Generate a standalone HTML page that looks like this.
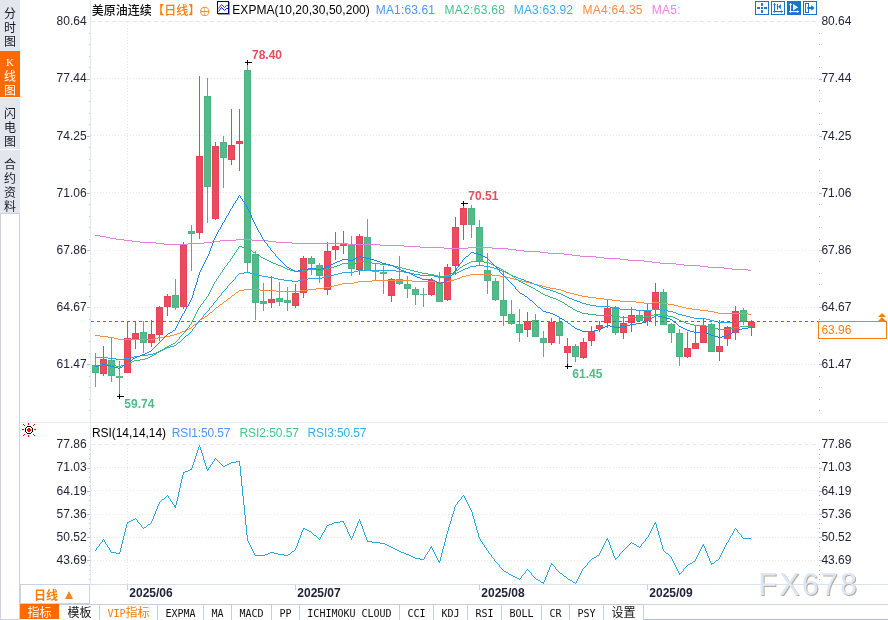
<!DOCTYPE html>
<html lang="zh-CN">
<head>
<meta charset="utf-8">
<title>美原油连续 日线</title>
<style>
html,body{margin:0;padding:0;background:#fff;}
body{width:888px;height:620px;position:relative;overflow:hidden;font-family:"Liberation Sans","Noto Sans CJK SC",sans-serif;}
#chart{position:absolute;left:0;top:0;width:888px;height:620px;}
#side{position:absolute;left:0;top:0;width:20px;height:620px;background:#fff;}
#side .s{position:absolute;left:0;width:20px;background:#e3e6ed;color:#151a28;font:12px/14px "Liberation Serif","Noto Sans CJK SC",serif;text-align:center;}
#side .s span{display:block;height:14px;}
#side .on{background:#ff6a00;color:#fff;}
#side .blank{position:absolute;left:0;top:213px;width:20px;height:407px;border:1px solid #cad3de;box-sizing:border-box;}
#period{position:absolute;left:20px;top:584px;width:70px;height:20px;box-sizing:border-box;border:1px solid #cbd3df;background:#fff;color:#ff7a0a;font:bold 12px/18px "Liberation Sans","Noto Sans CJK SC",sans-serif;}
#period b{position:absolute;left:13px;top:2px;font-weight:bold;}
#period i{position:absolute;left:43.5px;top:5.5px;width:0;height:0;border-left:4.5px solid transparent;border-right:4.5px solid transparent;border-bottom:8px solid #ff8415;}
#tabs{position:absolute;left:20px;top:604px;width:868px;height:16px;display:flex;background:#fff;}
.tab{box-sizing:border-box;height:16px;border-top:1px solid #c5cedc;border-right:1px solid #c5cedc;text-align:center;color:#111;font:12px/17px "Liberation Sans","Noto Sans CJK SC",sans-serif;white-space:pre;overflow:hidden;}
.tab .l{font:10px/17px "DejaVu Sans Mono","Liberation Mono",monospace;position:relative;top:0px;}
.tab.on{background:#ff6a00;color:#fff;border-top-color:#ff6a00;border-right-color:#f4f7fa;height:15px;}
.tab.vip{color:#ff7a0a;}
.tab.cjk,.tab.on,.tab.vip{}
#rest{flex:1;height:16px;box-sizing:border-box;border-top:1px solid #cdd7e3;border-bottom:1px solid #b7c2d0;}
</style>
</head>
<body>
<svg id="chart" width="888" height="620" viewBox="0 0 888 620">
<g shape-rendering="crispEdges" stroke="#e1e8ef" stroke-width="1" fill="none">
<line x1="91" x2="818" y1="21.5" y2="21.5" stroke-dasharray="4 3"/>
<line x1="91" x2="818" y1="78.5" y2="78.5" stroke-dasharray="1 2"/>
<line x1="91" x2="818" y1="135.5" y2="135.5" stroke-dasharray="1 2"/>
<line x1="91" x2="818" y1="192.5" y2="192.5" stroke-dasharray="1 2"/>
<line x1="91" x2="818" y1="250.5" y2="250.5" stroke-dasharray="1 2"/>
<line x1="91" x2="818" y1="307.5" y2="307.5" stroke-dasharray="1 2"/>
<line x1="91" x2="818" y1="364.5" y2="364.5" stroke-dasharray="1 2"/>
<line x1="91" x2="818" y1="444.5" y2="444.5" stroke-dasharray="4 3"/>
<line x1="91" x2="818" y1="467.5" y2="467.5" stroke-dasharray="1 2"/>
<line x1="91" x2="818" y1="490.5" y2="490.5" stroke-dasharray="1 2"/>
<line x1="91" x2="818" y1="514.5" y2="514.5" stroke-dasharray="1 2"/>
<line x1="91" x2="818" y1="537.5" y2="537.5" stroke-dasharray="1 2"/>
<line x1="91" x2="818" y1="560.5" y2="560.5" stroke-dasharray="1 2"/>
<line x1="127.5" x2="127.5" y1="22" y2="422" stroke-dasharray="1 2"/>
<line x1="127.5" x2="127.5" y1="445" y2="584" stroke-dasharray="1 2"/>
</g>
<g shape-rendering="crispEdges" fill="none">
<line x1="90.5" x2="90.5" y1="0" y2="584" stroke="#e1e8f0"/>
<line x1="20" x2="888" y1="422.5" y2="422.5" stroke="#e6ecf2"/>
<line x1="20" x2="888" y1="584.5" y2="584.5" stroke="#d9e1ea"/>
<line x1="819" x2="820" y1="33.5" y2="33.5" stroke="#aab2c6"/>
<line x1="89" x2="90" y1="33.5" y2="33.5" stroke="#c3cbd8"/>
<line x1="819" x2="820" y1="44.5" y2="44.5" stroke="#aab2c6"/>
<line x1="89" x2="90" y1="44.5" y2="44.5" stroke="#c3cbd8"/>
<line x1="819" x2="820" y1="56.5" y2="56.5" stroke="#aab2c6"/>
<line x1="89" x2="90" y1="56.5" y2="56.5" stroke="#c3cbd8"/>
<line x1="819" x2="820" y1="67.5" y2="67.5" stroke="#aab2c6"/>
<line x1="89" x2="90" y1="67.5" y2="67.5" stroke="#c3cbd8"/>
<line x1="819" x2="822" y1="79.5" y2="79.5" stroke="#b4bccb"/>
<line x1="87" x2="90" y1="79.5" y2="79.5" stroke="#b4bccb"/>
<line x1="819" x2="820" y1="90.5" y2="90.5" stroke="#aab2c6"/>
<line x1="89" x2="90" y1="90.5" y2="90.5" stroke="#c3cbd8"/>
<line x1="819" x2="820" y1="101.5" y2="101.5" stroke="#aab2c6"/>
<line x1="89" x2="90" y1="101.5" y2="101.5" stroke="#c3cbd8"/>
<line x1="819" x2="820" y1="113.5" y2="113.5" stroke="#aab2c6"/>
<line x1="89" x2="90" y1="113.5" y2="113.5" stroke="#c3cbd8"/>
<line x1="819" x2="820" y1="124.5" y2="124.5" stroke="#aab2c6"/>
<line x1="89" x2="90" y1="124.5" y2="124.5" stroke="#c3cbd8"/>
<line x1="819" x2="822" y1="136.5" y2="136.5" stroke="#b4bccb"/>
<line x1="87" x2="90" y1="136.5" y2="136.5" stroke="#b4bccb"/>
<line x1="819" x2="820" y1="147.5" y2="147.5" stroke="#aab2c6"/>
<line x1="89" x2="90" y1="147.5" y2="147.5" stroke="#c3cbd8"/>
<line x1="819" x2="820" y1="159.5" y2="159.5" stroke="#aab2c6"/>
<line x1="89" x2="90" y1="159.5" y2="159.5" stroke="#c3cbd8"/>
<line x1="819" x2="820" y1="170.5" y2="170.5" stroke="#aab2c6"/>
<line x1="89" x2="90" y1="170.5" y2="170.5" stroke="#c3cbd8"/>
<line x1="819" x2="820" y1="181.5" y2="181.5" stroke="#aab2c6"/>
<line x1="89" x2="90" y1="181.5" y2="181.5" stroke="#c3cbd8"/>
<line x1="819" x2="822" y1="193.5" y2="193.5" stroke="#b4bccb"/>
<line x1="87" x2="90" y1="193.5" y2="193.5" stroke="#b4bccb"/>
<line x1="819" x2="820" y1="204.5" y2="204.5" stroke="#aab2c6"/>
<line x1="89" x2="90" y1="204.5" y2="204.5" stroke="#c3cbd8"/>
<line x1="819" x2="820" y1="216.5" y2="216.5" stroke="#aab2c6"/>
<line x1="89" x2="90" y1="216.5" y2="216.5" stroke="#c3cbd8"/>
<line x1="819" x2="820" y1="227.5" y2="227.5" stroke="#aab2c6"/>
<line x1="89" x2="90" y1="227.5" y2="227.5" stroke="#c3cbd8"/>
<line x1="819" x2="820" y1="239.5" y2="239.5" stroke="#aab2c6"/>
<line x1="89" x2="90" y1="239.5" y2="239.5" stroke="#c3cbd8"/>
<line x1="819" x2="822" y1="250.5" y2="250.5" stroke="#b4bccb"/>
<line x1="87" x2="90" y1="250.5" y2="250.5" stroke="#b4bccb"/>
<line x1="819" x2="820" y1="261.5" y2="261.5" stroke="#aab2c6"/>
<line x1="89" x2="90" y1="261.5" y2="261.5" stroke="#c3cbd8"/>
<line x1="819" x2="820" y1="273.5" y2="273.5" stroke="#aab2c6"/>
<line x1="89" x2="90" y1="273.5" y2="273.5" stroke="#c3cbd8"/>
<line x1="819" x2="820" y1="284.5" y2="284.5" stroke="#aab2c6"/>
<line x1="89" x2="90" y1="284.5" y2="284.5" stroke="#c3cbd8"/>
<line x1="819" x2="820" y1="296.5" y2="296.5" stroke="#aab2c6"/>
<line x1="89" x2="90" y1="296.5" y2="296.5" stroke="#c3cbd8"/>
<line x1="819" x2="822" y1="307.5" y2="307.5" stroke="#b4bccb"/>
<line x1="87" x2="90" y1="307.5" y2="307.5" stroke="#b4bccb"/>
<line x1="819" x2="820" y1="319.5" y2="319.5" stroke="#aab2c6"/>
<line x1="89" x2="90" y1="319.5" y2="319.5" stroke="#c3cbd8"/>
<line x1="819" x2="820" y1="330.5" y2="330.5" stroke="#aab2c6"/>
<line x1="89" x2="90" y1="330.5" y2="330.5" stroke="#c3cbd8"/>
<line x1="819" x2="820" y1="341.5" y2="341.5" stroke="#aab2c6"/>
<line x1="89" x2="90" y1="341.5" y2="341.5" stroke="#c3cbd8"/>
<line x1="819" x2="820" y1="353.5" y2="353.5" stroke="#aab2c6"/>
<line x1="89" x2="90" y1="353.5" y2="353.5" stroke="#c3cbd8"/>
<line x1="819" x2="822" y1="364.5" y2="364.5" stroke="#b4bccb"/>
<line x1="87" x2="90" y1="364.5" y2="364.5" stroke="#b4bccb"/>
<line x1="819" x2="820" y1="376.5" y2="376.5" stroke="#aab2c6"/>
<line x1="89" x2="90" y1="376.5" y2="376.5" stroke="#c3cbd8"/>
<line x1="819" x2="820" y1="387.5" y2="387.5" stroke="#aab2c6"/>
<line x1="89" x2="90" y1="387.5" y2="387.5" stroke="#c3cbd8"/>
<line x1="819" x2="820" y1="399.5" y2="399.5" stroke="#aab2c6"/>
<line x1="89" x2="90" y1="399.5" y2="399.5" stroke="#c3cbd8"/>
<line x1="819" x2="820" y1="410.5" y2="410.5" stroke="#aab2c6"/>
<line x1="89" x2="90" y1="410.5" y2="410.5" stroke="#c3cbd8"/>
<line x1="819" x2="820" y1="449.5" y2="449.5" stroke="#aab2c6"/>
<line x1="89" x2="90" y1="449.5" y2="449.5" stroke="#c3cbd8"/>
<line x1="819" x2="820" y1="454.5" y2="454.5" stroke="#aab2c6"/>
<line x1="89" x2="90" y1="454.5" y2="454.5" stroke="#c3cbd8"/>
<line x1="819" x2="820" y1="458.5" y2="458.5" stroke="#aab2c6"/>
<line x1="89" x2="90" y1="458.5" y2="458.5" stroke="#c3cbd8"/>
<line x1="819" x2="820" y1="463.5" y2="463.5" stroke="#aab2c6"/>
<line x1="89" x2="90" y1="463.5" y2="463.5" stroke="#c3cbd8"/>
<line x1="819" x2="822" y1="468.5" y2="468.5" stroke="#b4bccb"/>
<line x1="87" x2="90" y1="468.5" y2="468.5" stroke="#b4bccb"/>
<line x1="819" x2="820" y1="472.5" y2="472.5" stroke="#aab2c6"/>
<line x1="89" x2="90" y1="472.5" y2="472.5" stroke="#c3cbd8"/>
<line x1="819" x2="820" y1="477.5" y2="477.5" stroke="#aab2c6"/>
<line x1="89" x2="90" y1="477.5" y2="477.5" stroke="#c3cbd8"/>
<line x1="819" x2="820" y1="481.5" y2="481.5" stroke="#aab2c6"/>
<line x1="89" x2="90" y1="481.5" y2="481.5" stroke="#c3cbd8"/>
<line x1="819" x2="820" y1="486.5" y2="486.5" stroke="#aab2c6"/>
<line x1="89" x2="90" y1="486.5" y2="486.5" stroke="#c3cbd8"/>
<line x1="819" x2="822" y1="491.5" y2="491.5" stroke="#b4bccb"/>
<line x1="87" x2="90" y1="491.5" y2="491.5" stroke="#b4bccb"/>
<line x1="819" x2="820" y1="495.5" y2="495.5" stroke="#aab2c6"/>
<line x1="89" x2="90" y1="495.5" y2="495.5" stroke="#c3cbd8"/>
<line x1="819" x2="820" y1="500.5" y2="500.5" stroke="#aab2c6"/>
<line x1="89" x2="90" y1="500.5" y2="500.5" stroke="#c3cbd8"/>
<line x1="819" x2="820" y1="505.5" y2="505.5" stroke="#aab2c6"/>
<line x1="89" x2="90" y1="505.5" y2="505.5" stroke="#c3cbd8"/>
<line x1="819" x2="820" y1="509.5" y2="509.5" stroke="#aab2c6"/>
<line x1="89" x2="90" y1="509.5" y2="509.5" stroke="#c3cbd8"/>
<line x1="819" x2="822" y1="514.5" y2="514.5" stroke="#b4bccb"/>
<line x1="87" x2="90" y1="514.5" y2="514.5" stroke="#b4bccb"/>
<line x1="819" x2="820" y1="519.5" y2="519.5" stroke="#aab2c6"/>
<line x1="89" x2="90" y1="519.5" y2="519.5" stroke="#c3cbd8"/>
<line x1="819" x2="820" y1="523.5" y2="523.5" stroke="#aab2c6"/>
<line x1="89" x2="90" y1="523.5" y2="523.5" stroke="#c3cbd8"/>
<line x1="819" x2="820" y1="528.5" y2="528.5" stroke="#aab2c6"/>
<line x1="89" x2="90" y1="528.5" y2="528.5" stroke="#c3cbd8"/>
<line x1="819" x2="820" y1="532.5" y2="532.5" stroke="#aab2c6"/>
<line x1="89" x2="90" y1="532.5" y2="532.5" stroke="#c3cbd8"/>
<line x1="819" x2="822" y1="537.5" y2="537.5" stroke="#b4bccb"/>
<line x1="87" x2="90" y1="537.5" y2="537.5" stroke="#b4bccb"/>
<line x1="819" x2="820" y1="542.5" y2="542.5" stroke="#aab2c6"/>
<line x1="89" x2="90" y1="542.5" y2="542.5" stroke="#c3cbd8"/>
<line x1="819" x2="820" y1="546.5" y2="546.5" stroke="#aab2c6"/>
<line x1="89" x2="90" y1="546.5" y2="546.5" stroke="#c3cbd8"/>
<line x1="819" x2="820" y1="551.5" y2="551.5" stroke="#aab2c6"/>
<line x1="89" x2="90" y1="551.5" y2="551.5" stroke="#c3cbd8"/>
<line x1="819" x2="820" y1="556.5" y2="556.5" stroke="#aab2c6"/>
<line x1="89" x2="90" y1="556.5" y2="556.5" stroke="#c3cbd8"/>
<line x1="819" x2="822" y1="560.5" y2="560.5" stroke="#b4bccb"/>
<line x1="87" x2="90" y1="560.5" y2="560.5" stroke="#b4bccb"/>
<line x1="819" x2="820" y1="565.5" y2="565.5" stroke="#aab2c6"/>
<line x1="89" x2="90" y1="565.5" y2="565.5" stroke="#c3cbd8"/>
<line x1="819" x2="820" y1="570.5" y2="570.5" stroke="#aab2c6"/>
<line x1="89" x2="90" y1="570.5" y2="570.5" stroke="#c3cbd8"/>
<line x1="819" x2="820" y1="574.5" y2="574.5" stroke="#aab2c6"/>
<line x1="89" x2="90" y1="574.5" y2="574.5" stroke="#c3cbd8"/>
<line x1="819" x2="820" y1="579.5" y2="579.5" stroke="#aab2c6"/>
<line x1="89" x2="90" y1="579.5" y2="579.5" stroke="#c3cbd8"/>
<line x1="127.5" x2="127.5" y1="585" y2="590" stroke="#c5cedb"/>
<line x1="295.5" x2="295.5" y1="585" y2="590" stroke="#c5cedb"/>
<line x1="479.5" x2="479.5" y1="585" y2="590" stroke="#c5cedb"/>
<line x1="647.5" x2="647.5" y1="585" y2="590" stroke="#c5cedb"/>
</g>
<g shape-rendering="crispEdges">
<rect x="95" y="353" width="1" height="34" fill="#4ab482"/>
<rect x="92" y="365" width="7" height="8" fill="#55ba89"/>
<rect x="92.5" y="365.5" width="6" height="7" fill="none" stroke="#4ab482" stroke-width="1"/>
<rect x="103" y="346" width="1" height="30" fill="#e74255"/>
<rect x="100" y="359" width="7" height="15" fill="#e94d5d"/>
<rect x="100.5" y="359.5" width="6" height="14" fill="none" stroke="#e74255" stroke-width="1"/>
<rect x="111" y="338" width="1" height="44" fill="#4ab482"/>
<rect x="108" y="360" width="7" height="16" fill="#55ba89"/>
<rect x="108.5" y="360.5" width="6" height="15" fill="none" stroke="#4ab482" stroke-width="1"/>
<rect x="119" y="361" width="1" height="35" fill="#4ab482"/>
<rect x="116" y="376" width="7" height="2" fill="#55ba89"/>
<rect x="127" y="322" width="1" height="51" fill="#e74255"/>
<rect x="124" y="338" width="7" height="35" fill="#e94d5d"/>
<rect x="124.5" y="338.5" width="6" height="34" fill="none" stroke="#e74255" stroke-width="1"/>
<rect x="135" y="322" width="1" height="27" fill="#e74255"/>
<rect x="132" y="333" width="7" height="6" fill="#e94d5d"/>
<rect x="132.5" y="333.5" width="6" height="5" fill="none" stroke="#e74255" stroke-width="1"/>
<rect x="143" y="321" width="1" height="32" fill="#4ab482"/>
<rect x="140" y="332" width="7" height="11" fill="#55ba89"/>
<rect x="140.5" y="332.5" width="6" height="10" fill="none" stroke="#4ab482" stroke-width="1"/>
<rect x="151" y="320" width="1" height="27" fill="#e74255"/>
<rect x="148" y="334" width="7" height="9" fill="#e94d5d"/>
<rect x="148.5" y="334.5" width="6" height="8" fill="none" stroke="#e74255" stroke-width="1"/>
<rect x="159" y="306" width="1" height="35" fill="#e74255"/>
<rect x="156" y="307" width="7" height="28" fill="#e94d5d"/>
<rect x="156.5" y="307.5" width="6" height="27" fill="none" stroke="#e74255" stroke-width="1"/>
<rect x="167" y="294" width="1" height="22" fill="#e74255"/>
<rect x="164" y="296" width="7" height="11" fill="#e94d5d"/>
<rect x="164.5" y="296.5" width="6" height="10" fill="none" stroke="#e74255" stroke-width="1"/>
<rect x="175" y="279" width="1" height="31" fill="#4ab482"/>
<rect x="172" y="295" width="7" height="13" fill="#55ba89"/>
<rect x="172.5" y="295.5" width="6" height="12" fill="none" stroke="#4ab482" stroke-width="1"/>
<rect x="183" y="242" width="1" height="67" fill="#e74255"/>
<rect x="180" y="245" width="7" height="62" fill="#e94d5d"/>
<rect x="180.5" y="245.5" width="6" height="61" fill="none" stroke="#e74255" stroke-width="1"/>
<rect x="191" y="225" width="1" height="46" fill="#4ab482"/>
<rect x="188" y="231" width="7" height="3" fill="#55ba89"/>
<rect x="188.5" y="231.5" width="6" height="2" fill="none" stroke="#4ab482" stroke-width="1"/>
<rect x="199" y="76" width="1" height="163" fill="#e74255"/>
<rect x="196" y="156" width="7" height="77" fill="#e94d5d"/>
<rect x="196.5" y="156.5" width="6" height="76" fill="none" stroke="#e74255" stroke-width="1"/>
<rect x="207" y="78" width="1" height="145" fill="#4ab482"/>
<rect x="204" y="96" width="7" height="91" fill="#55ba89"/>
<rect x="204.5" y="96.5" width="6" height="90" fill="none" stroke="#4ab482" stroke-width="1"/>
<rect x="215" y="142" width="1" height="78" fill="#e74255"/>
<rect x="212" y="146" width="7" height="73" fill="#e94d5d"/>
<rect x="212.5" y="146.5" width="6" height="72" fill="none" stroke="#e74255" stroke-width="1"/>
<rect x="223" y="136" width="1" height="52" fill="#4ab482"/>
<rect x="220" y="142" width="7" height="16" fill="#55ba89"/>
<rect x="220.5" y="142.5" width="6" height="15" fill="none" stroke="#4ab482" stroke-width="1"/>
<rect x="231" y="109" width="1" height="56" fill="#e74255"/>
<rect x="228" y="145" width="7" height="15" fill="#e94d5d"/>
<rect x="228.5" y="145.5" width="6" height="14" fill="none" stroke="#e74255" stroke-width="1"/>
<rect x="239" y="109" width="1" height="62" fill="#e74255"/>
<rect x="236" y="141" width="7" height="3" fill="#e94d5d"/>
<rect x="236.5" y="141.5" width="6" height="2" fill="none" stroke="#e74255" stroke-width="1"/>
<rect x="247" y="63" width="1" height="209" fill="#4ab482"/>
<rect x="244" y="70" width="7" height="193" fill="#55ba89"/>
<rect x="244.5" y="70.5" width="6" height="192" fill="none" stroke="#4ab482" stroke-width="1"/>
<rect x="255" y="251" width="1" height="69" fill="#4ab482"/>
<rect x="252" y="254" width="7" height="49" fill="#55ba89"/>
<rect x="252.5" y="254.5" width="6" height="48" fill="none" stroke="#4ab482" stroke-width="1"/>
<rect x="263" y="283" width="1" height="28" fill="#4ab482"/>
<rect x="260" y="301" width="7" height="3" fill="#55ba89"/>
<rect x="260.5" y="301.5" width="6" height="2" fill="none" stroke="#4ab482" stroke-width="1"/>
<rect x="271" y="276" width="1" height="32" fill="#e74255"/>
<rect x="268" y="299" width="7" height="4" fill="#e94d5d"/>
<rect x="268.5" y="299.5" width="6" height="3" fill="none" stroke="#e74255" stroke-width="1"/>
<rect x="279" y="282" width="1" height="24" fill="#4ab482"/>
<rect x="276" y="298" width="7" height="4" fill="#55ba89"/>
<rect x="276.5" y="298.5" width="6" height="3" fill="none" stroke="#4ab482" stroke-width="1"/>
<rect x="287" y="287" width="1" height="24" fill="#4ab482"/>
<rect x="284" y="300" width="7" height="3" fill="#55ba89"/>
<rect x="284.5" y="300.5" width="6" height="2" fill="none" stroke="#4ab482" stroke-width="1"/>
<rect x="295" y="284" width="1" height="24" fill="#e74255"/>
<rect x="292" y="293" width="7" height="13" fill="#e94d5d"/>
<rect x="292.5" y="293.5" width="6" height="12" fill="none" stroke="#e74255" stroke-width="1"/>
<rect x="303" y="256" width="1" height="42" fill="#e74255"/>
<rect x="300" y="258" width="7" height="35" fill="#e94d5d"/>
<rect x="300.5" y="258.5" width="6" height="34" fill="none" stroke="#e74255" stroke-width="1"/>
<rect x="311" y="256" width="1" height="19" fill="#4ab482"/>
<rect x="308" y="258" width="7" height="6" fill="#55ba89"/>
<rect x="308.5" y="258.5" width="6" height="5" fill="none" stroke="#4ab482" stroke-width="1"/>
<rect x="319" y="263" width="1" height="20" fill="#4ab482"/>
<rect x="316" y="265" width="7" height="11" fill="#55ba89"/>
<rect x="316.5" y="265.5" width="6" height="10" fill="none" stroke="#4ab482" stroke-width="1"/>
<rect x="327" y="242" width="1" height="53" fill="#e74255"/>
<rect x="324" y="251" width="7" height="39" fill="#e94d5d"/>
<rect x="324.5" y="251.5" width="6" height="38" fill="none" stroke="#e74255" stroke-width="1"/>
<rect x="335" y="232" width="1" height="28" fill="#e74255"/>
<rect x="332" y="246" width="7" height="4" fill="#e94d5d"/>
<rect x="332.5" y="246.5" width="6" height="3" fill="none" stroke="#e74255" stroke-width="1"/>
<rect x="343" y="231" width="1" height="23" fill="#e74255"/>
<rect x="340" y="244" width="7" height="2" fill="#e94d5d"/>
<rect x="351" y="236" width="1" height="40" fill="#4ab482"/>
<rect x="348" y="245" width="7" height="24" fill="#55ba89"/>
<rect x="348.5" y="245.5" width="6" height="23" fill="none" stroke="#4ab482" stroke-width="1"/>
<rect x="359" y="234" width="1" height="41" fill="#e74255"/>
<rect x="356" y="236" width="7" height="34" fill="#e94d5d"/>
<rect x="356.5" y="236.5" width="6" height="33" fill="none" stroke="#e74255" stroke-width="1"/>
<rect x="367" y="219" width="1" height="52" fill="#4ab482"/>
<rect x="364" y="237" width="7" height="34" fill="#55ba89"/>
<rect x="364.5" y="237.5" width="6" height="33" fill="none" stroke="#4ab482" stroke-width="1"/>
<rect x="375" y="264" width="1" height="16" fill="#4ab482"/>
<rect x="372" y="271" width="7" height="1" fill="#55ba89"/>
<rect x="383" y="266" width="1" height="28" fill="#4ab482"/>
<rect x="380" y="272" width="7" height="2" fill="#55ba89"/>
<rect x="391" y="278" width="1" height="24" fill="#e74255"/>
<rect x="388" y="279" width="7" height="17" fill="#e94d5d"/>
<rect x="388.5" y="279.5" width="6" height="16" fill="none" stroke="#e74255" stroke-width="1"/>
<rect x="399" y="256" width="1" height="29" fill="#4ab482"/>
<rect x="396" y="279" width="7" height="5" fill="#55ba89"/>
<rect x="396.5" y="279.5" width="6" height="4" fill="none" stroke="#4ab482" stroke-width="1"/>
<rect x="407" y="276" width="1" height="22" fill="#4ab482"/>
<rect x="404" y="284" width="7" height="5" fill="#55ba89"/>
<rect x="404.5" y="284.5" width="6" height="4" fill="none" stroke="#4ab482" stroke-width="1"/>
<rect x="415" y="287" width="1" height="18" fill="#4ab482"/>
<rect x="412" y="289" width="7" height="6" fill="#55ba89"/>
<rect x="412.5" y="289.5" width="6" height="5" fill="none" stroke="#4ab482" stroke-width="1"/>
<rect x="423" y="288" width="1" height="19" fill="#4ab482"/>
<rect x="420" y="294" width="7" height="1" fill="#55ba89"/>
<rect x="431" y="278" width="1" height="18" fill="#e74255"/>
<rect x="428" y="280" width="7" height="15" fill="#e94d5d"/>
<rect x="428.5" y="280.5" width="6" height="14" fill="none" stroke="#e74255" stroke-width="1"/>
<rect x="439" y="272" width="1" height="30" fill="#4ab482"/>
<rect x="436" y="283" width="7" height="19" fill="#55ba89"/>
<rect x="436.5" y="283.5" width="6" height="18" fill="none" stroke="#4ab482" stroke-width="1"/>
<rect x="447" y="264" width="1" height="37" fill="#e74255"/>
<rect x="444" y="267" width="7" height="33" fill="#e94d5d"/>
<rect x="444.5" y="267.5" width="6" height="32" fill="none" stroke="#e74255" stroke-width="1"/>
<rect x="455" y="217" width="1" height="58" fill="#e74255"/>
<rect x="452" y="227" width="7" height="39" fill="#e94d5d"/>
<rect x="452.5" y="227.5" width="6" height="38" fill="none" stroke="#e74255" stroke-width="1"/>
<rect x="463" y="203" width="1" height="37" fill="#e74255"/>
<rect x="460" y="208" width="7" height="17" fill="#e94d5d"/>
<rect x="460.5" y="208.5" width="6" height="16" fill="none" stroke="#e74255" stroke-width="1"/>
<rect x="471" y="205" width="1" height="33" fill="#4ab482"/>
<rect x="468" y="208" width="7" height="17" fill="#55ba89"/>
<rect x="468.5" y="208.5" width="6" height="16" fill="none" stroke="#4ab482" stroke-width="1"/>
<rect x="479" y="220" width="1" height="45" fill="#4ab482"/>
<rect x="476" y="227" width="7" height="34" fill="#55ba89"/>
<rect x="476.5" y="227.5" width="6" height="33" fill="none" stroke="#4ab482" stroke-width="1"/>
<rect x="487" y="253" width="1" height="41" fill="#4ab482"/>
<rect x="484" y="270" width="7" height="11" fill="#55ba89"/>
<rect x="484.5" y="270.5" width="6" height="10" fill="none" stroke="#4ab482" stroke-width="1"/>
<rect x="495" y="278" width="1" height="23" fill="#4ab482"/>
<rect x="492" y="281" width="7" height="19" fill="#55ba89"/>
<rect x="492.5" y="281.5" width="6" height="18" fill="none" stroke="#4ab482" stroke-width="1"/>
<rect x="503" y="271" width="1" height="55" fill="#4ab482"/>
<rect x="500" y="300" width="7" height="16" fill="#55ba89"/>
<rect x="500.5" y="300.5" width="6" height="15" fill="none" stroke="#4ab482" stroke-width="1"/>
<rect x="511" y="300" width="1" height="25" fill="#4ab482"/>
<rect x="508" y="314" width="7" height="10" fill="#55ba89"/>
<rect x="508.5" y="314.5" width="6" height="9" fill="none" stroke="#4ab482" stroke-width="1"/>
<rect x="519" y="309" width="1" height="33" fill="#4ab482"/>
<rect x="516" y="324" width="7" height="9" fill="#55ba89"/>
<rect x="516.5" y="324.5" width="6" height="8" fill="none" stroke="#4ab482" stroke-width="1"/>
<rect x="527" y="312" width="1" height="25" fill="#e74255"/>
<rect x="524" y="321" width="7" height="9" fill="#e94d5d"/>
<rect x="524.5" y="321.5" width="6" height="8" fill="none" stroke="#e74255" stroke-width="1"/>
<rect x="535" y="314" width="1" height="23" fill="#4ab482"/>
<rect x="532" y="320" width="7" height="17" fill="#55ba89"/>
<rect x="532.5" y="320.5" width="6" height="16" fill="none" stroke="#4ab482" stroke-width="1"/>
<rect x="543" y="331" width="1" height="26" fill="#4ab482"/>
<rect x="540" y="338" width="7" height="5" fill="#55ba89"/>
<rect x="540.5" y="338.5" width="6" height="4" fill="none" stroke="#4ab482" stroke-width="1"/>
<rect x="551" y="318" width="1" height="27" fill="#e74255"/>
<rect x="548" y="322" width="7" height="21" fill="#e94d5d"/>
<rect x="548.5" y="322.5" width="6" height="20" fill="none" stroke="#e74255" stroke-width="1"/>
<rect x="559" y="318" width="1" height="26" fill="#4ab482"/>
<rect x="556" y="322" width="7" height="14" fill="#55ba89"/>
<rect x="556.5" y="322.5" width="6" height="13" fill="none" stroke="#4ab482" stroke-width="1"/>
<rect x="567" y="338" width="1" height="29" fill="#e74255"/>
<rect x="564" y="346" width="7" height="7" fill="#e94d5d"/>
<rect x="564.5" y="346.5" width="6" height="6" fill="none" stroke="#e74255" stroke-width="1"/>
<rect x="575" y="344" width="1" height="18" fill="#4ab482"/>
<rect x="572" y="346" width="7" height="11" fill="#55ba89"/>
<rect x="572.5" y="346.5" width="6" height="10" fill="none" stroke="#4ab482" stroke-width="1"/>
<rect x="583" y="338" width="1" height="21" fill="#e74255"/>
<rect x="580" y="342" width="7" height="16" fill="#e94d5d"/>
<rect x="580.5" y="342.5" width="6" height="15" fill="none" stroke="#e74255" stroke-width="1"/>
<rect x="591" y="326" width="1" height="20" fill="#e74255"/>
<rect x="588" y="331" width="7" height="10" fill="#e94d5d"/>
<rect x="588.5" y="331.5" width="6" height="9" fill="none" stroke="#e74255" stroke-width="1"/>
<rect x="599" y="321" width="1" height="11" fill="#e74255"/>
<rect x="596" y="325" width="7" height="4" fill="#e94d5d"/>
<rect x="596.5" y="325.5" width="6" height="3" fill="none" stroke="#e74255" stroke-width="1"/>
<rect x="607" y="300" width="1" height="28" fill="#e74255"/>
<rect x="604" y="308" width="7" height="15" fill="#e94d5d"/>
<rect x="604.5" y="308.5" width="6" height="14" fill="none" stroke="#e74255" stroke-width="1"/>
<rect x="615" y="306" width="1" height="29" fill="#4ab482"/>
<rect x="612" y="307" width="7" height="26" fill="#55ba89"/>
<rect x="612.5" y="307.5" width="6" height="25" fill="none" stroke="#4ab482" stroke-width="1"/>
<rect x="623" y="316" width="1" height="23" fill="#e74255"/>
<rect x="620" y="323" width="7" height="10" fill="#e94d5d"/>
<rect x="620.5" y="323.5" width="6" height="9" fill="none" stroke="#e74255" stroke-width="1"/>
<rect x="631" y="307" width="1" height="25" fill="#e74255"/>
<rect x="628" y="315" width="7" height="8" fill="#e94d5d"/>
<rect x="628.5" y="315.5" width="6" height="7" fill="none" stroke="#e74255" stroke-width="1"/>
<rect x="639" y="311" width="1" height="10" fill="#4ab482"/>
<rect x="636" y="315" width="7" height="6" fill="#55ba89"/>
<rect x="636.5" y="315.5" width="6" height="5" fill="none" stroke="#4ab482" stroke-width="1"/>
<rect x="647" y="304" width="1" height="22" fill="#e74255"/>
<rect x="644" y="311" width="7" height="10" fill="#e94d5d"/>
<rect x="644.5" y="311.5" width="6" height="9" fill="none" stroke="#e74255" stroke-width="1"/>
<rect x="655" y="283" width="1" height="43" fill="#e74255"/>
<rect x="652" y="292" width="7" height="18" fill="#e94d5d"/>
<rect x="652.5" y="292.5" width="6" height="17" fill="none" stroke="#e74255" stroke-width="1"/>
<rect x="663" y="289" width="1" height="36" fill="#4ab482"/>
<rect x="660" y="292" width="7" height="33" fill="#55ba89"/>
<rect x="660.5" y="292.5" width="6" height="32" fill="none" stroke="#4ab482" stroke-width="1"/>
<rect x="671" y="323" width="1" height="20" fill="#4ab482"/>
<rect x="668" y="324" width="7" height="9" fill="#55ba89"/>
<rect x="668.5" y="324.5" width="6" height="8" fill="none" stroke="#4ab482" stroke-width="1"/>
<rect x="679" y="329" width="1" height="37" fill="#4ab482"/>
<rect x="676" y="333" width="7" height="24" fill="#55ba89"/>
<rect x="676.5" y="333.5" width="6" height="23" fill="none" stroke="#4ab482" stroke-width="1"/>
<rect x="687" y="332" width="1" height="26" fill="#e74255"/>
<rect x="684" y="348" width="7" height="9" fill="#e94d5d"/>
<rect x="684.5" y="348.5" width="6" height="8" fill="none" stroke="#e74255" stroke-width="1"/>
<rect x="695" y="326" width="1" height="23" fill="#e74255"/>
<rect x="692" y="343" width="7" height="6" fill="#e94d5d"/>
<rect x="692.5" y="343.5" width="6" height="5" fill="none" stroke="#e74255" stroke-width="1"/>
<rect x="703" y="319" width="1" height="24" fill="#e74255"/>
<rect x="700" y="326" width="7" height="17" fill="#e94d5d"/>
<rect x="700.5" y="326.5" width="6" height="16" fill="none" stroke="#e74255" stroke-width="1"/>
<rect x="711" y="323" width="1" height="29" fill="#4ab482"/>
<rect x="708" y="324" width="7" height="28" fill="#55ba89"/>
<rect x="708.5" y="324.5" width="6" height="27" fill="none" stroke="#4ab482" stroke-width="1"/>
<rect x="719" y="320" width="1" height="41" fill="#e74255"/>
<rect x="716" y="346" width="7" height="6" fill="#e94d5d"/>
<rect x="716.5" y="346.5" width="6" height="5" fill="none" stroke="#e74255" stroke-width="1"/>
<rect x="727" y="326" width="1" height="20" fill="#e74255"/>
<rect x="724" y="327" width="7" height="12" fill="#e94d5d"/>
<rect x="724.5" y="327.5" width="6" height="11" fill="none" stroke="#e74255" stroke-width="1"/>
<rect x="735" y="306" width="1" height="34" fill="#e74255"/>
<rect x="732" y="311" width="7" height="22" fill="#e94d5d"/>
<rect x="732.5" y="311.5" width="6" height="21" fill="none" stroke="#e74255" stroke-width="1"/>
<rect x="743" y="308" width="1" height="17" fill="#4ab482"/>
<rect x="740" y="310" width="7" height="11" fill="#55ba89"/>
<rect x="740.5" y="310.5" width="6" height="10" fill="none" stroke="#4ab482" stroke-width="1"/>
<rect x="751" y="320" width="1" height="16" fill="#e74255"/>
<rect x="748" y="322" width="7" height="6" fill="#e94d5d"/>
<rect x="748.5" y="322.5" width="6" height="5" fill="none" stroke="#e74255" stroke-width="1"/>
</g>
<g shape-rendering="crispEdges">
<path d="M95 235.5h5M100 236.5h3M103 236.5h3M106 237.5h4M110 238.5h1M111 238.5h5M116 239.5h3M119 239.5h5M124 240.5h3M127 240.5h5M132 241.5h3M135 241.5h5M140 242.5h3M143 242.5h8M151 242.5h5M156 243.5h3M159 243.5h5M164 244.5h3M167 244.5h8M175 244.5h8M183 244.5h5M188 243.5h3M191 243.5h8M199 243.5h5M204 242.5h3M207 242.5h5M212 241.5h3M215 241.5h5M220 240.5h3M223 240.5h8M231 240.5h5M236 239.5h3M239 239.5h8M247 239.5h5M252 240.5h3M255 240.5h8M263 240.5h5M268 241.5h3M271 241.5h5M276 242.5h3M279 242.5h8M287 242.5h5M292 243.5h3M295 243.5h8M303 243.5h8M311 243.5h8M319 243.5h8M327 243.5h8M335 243.5h8M343 243.5h5M348 244.5h3M351 244.5h8M359 244.5h8M367 244.5h8M375 244.5h5M380 245.5h3M383 245.5h8M391 245.5h8M399 245.5h5M404 246.5h3M407 246.5h8M415 246.5h5M420 247.5h3M423 247.5h8M431 247.5h8M439 247.5h5M444 248.5h3M447 248.5h8M455 248.5h8M463 248.5h5M468 247.5h3M471 247.5h8M479 247.5h8M487 247.5h5M492 248.5h3M495 248.5h8M503 248.5h5M508 249.5h3M511 249.5h5M516 250.5h3M519 250.5h5M524 251.5h3M527 251.5h8M535 251.5h5M540 252.5h3M543 252.5h5M548 253.5h3M551 253.5h8M559 253.5h5M564 254.5h3M567 254.5h5M572 255.5h3M575 255.5h5M580 256.5h3M583 256.5h8M591 256.5h5M596 257.5h3M599 257.5h5M604 258.5h3M607 258.5h8M615 258.5h5M620 259.5h3M623 259.5h5M628 260.5h3M631 260.5h8M639 260.5h5M644 261.5h3M647 261.5h5M652 262.5h3M655 262.5h5M660 263.5h3M663 263.5h8M671 263.5h5M676 264.5h3M679 264.5h5M684 265.5h3M687 265.5h8M695 265.5h5M700 266.5h3M703 266.5h5M708 267.5h3M711 267.5h8M719 267.5h5M724 268.5h3M727 268.5h5M732 269.5h3M735 269.5h8M743 269.5h5M748 270.5h3" fill="none" stroke="#e67fda" stroke-width="1"/>
<path d="M95 335.5h5M100 336.5h3M103 336.5h5M108 337.5h3M111 337.5h3M114 338.5h4M118 339.5h1M119 339.5h8M127 339.5h8M135 339.5h8M143 339.5h8M151 339.5h3M154 338.5h4M158 337.5h1M159 337.5h5M164 336.5h3M167 336.5h3M170 335.5h4M174 334.5h1M175 334.5h2M177 333.5h3M180 332.5h2M182 331.5h1M183 331.5h2M185 330.5h2M187 329.5h2M189 328.5h2M191 327.5h1M192 326.5h1M193 325.5h1M194 324.5h2M196 323.5h1M197 322.5h1M198 321.5h1M199 320.5h1M200 319.5h2M202 318.5h2M204 317.5h1M205 316.5h2M207 315.5h1M208 314.5h1M209 313.5h1M210 312.5h2M212 311.5h1M213 310.5h1M214 309.5h1M215 308.5h1M216 307.5h2M218 306.5h1M219 305.5h1M220 304.5h2M222 303.5h1M223 302.5h1M224 301.5h2M226 300.5h1M227 299.5h1M228 298.5h2M230 297.5h1M231 296.5h1M232 295.5h2M234 294.5h1M235 293.5h1M236 292.5h2M238 291.5h1M239 290.5h5M244 289.5h3M247 289.5h8M255 289.5h5M260 290.5h3M263 290.5h8M271 290.5h5M276 291.5h3M279 291.5h8M287 291.5h8M295 291.5h5M300 290.5h3M303 290.5h5M308 289.5h3M311 289.5h5M316 288.5h3M319 288.5h5M324 287.5h3M327 287.5h3M330 286.5h4M334 285.5h1M335 285.5h3M338 284.5h4M342 283.5h1M343 283.5h8M351 283.5h3M354 282.5h4M358 281.5h1M359 281.5h8M367 281.5h5M372 280.5h3M375 280.5h8M383 280.5h8M391 280.5h8M399 280.5h8M407 280.5h5M412 281.5h3M415 281.5h8M423 281.5h8M431 281.5h5M436 282.5h3M439 282.5h5M444 281.5h3M447 281.5h3M450 280.5h4M454 279.5h1M455 279.5h2M457 278.5h3M460 277.5h2M462 276.5h1M463 276.5h3M466 275.5h4M470 274.5h1M471 274.5h8M479 274.5h8M487 274.5h5M492 275.5h3M495 275.5h5M500 276.5h3M503 276.5h3M506 277.5h4M510 278.5h1M511 278.5h3M514 279.5h4M518 280.5h1M519 280.5h3M522 281.5h4M526 282.5h1M527 282.5h3M530 283.5h4M534 284.5h1M535 284.5h3M538 285.5h4M542 286.5h1M543 286.5h3M546 287.5h4M550 288.5h1M551 288.5h5M556 289.5h3M559 289.5h2M561 290.5h3M564 291.5h2M566 292.5h1M567 292.5h3M570 293.5h4M574 294.5h1M575 294.5h3M578 295.5h4M582 296.5h1M583 296.5h5M588 297.5h3M591 297.5h5M596 298.5h3M599 298.5h5M604 299.5h3M607 299.5h5M612 300.5h3M615 300.5h5M620 301.5h3M623 301.5h8M631 301.5h5M636 302.5h3M639 302.5h5M644 303.5h3M647 303.5h5M652 302.5h3M655 302.5h5M660 303.5h3M663 303.5h5M668 304.5h3M671 304.5h3M674 305.5h4M678 306.5h1M679 306.5h3M682 307.5h4M686 308.5h1M687 308.5h5M692 309.5h3M695 309.5h5M700 310.5h3M703 310.5h5M708 311.5h3M711 311.5h3M714 312.5h4M718 313.5h1M719 313.5h8M727 313.5h8M735 313.5h8M743 313.5h5M748 314.5h3" fill="none" stroke="#ff8d3c" stroke-width="1"/>
<path d="M95 357.5h8M103 357.5h5M108 358.5h3M111 358.5h5M116 359.5h3M119 359.5h5M124 358.5h3M127 358.5h3M130 357.5h4M134 356.5h1M135 356.5h5M140 355.5h3M143 355.5h5M148 354.5h3M151 354.5h2M153 353.5h3M156 352.5h2M158 351.5h1M159 351.5h2M161 350.5h2M163 349.5h2M165 348.5h2M167 347.5h3M170 346.5h4M174 345.5h1M175 345.5h1M176 344.5h1M177 343.5h1M178 342.5h2M180 341.5h1M181 340.5h1M182 339.5h1M183 338.5h1M184 337.5h1M185 336.5h1M186 335.5h2M188 334.5h1M189 333.5h1M190 332.5h1M191.5 331v1M192.5 329v2M193.5 328v1M194.5 327v1M195.5 325v2M196.5 324v1M197.5 323v1M198.5 321v2M199.5 320v1M200.5 319v1M201.5 318v1M202.5 317v1M203.5 315v2M204.5 314v1M205.5 313v1M206.5 312v1M207.5 311v1M208.5 310v1M209.5 308v2M210.5 307v1M211.5 306v1M212.5 305v1M213.5 303v2M214.5 302v1M215.5 301v1M216.5 300v1M217.5 298v2M218.5 297v1M219.5 296v1M220.5 295v1M221.5 293v2M222.5 292v1M223.5 291v1M224.5 290v1M225.5 289v1M226.5 288v1M227.5 286v2M228.5 285v1M229.5 284v1M230.5 283v1M231.5 282v1M232.5 281v1M233.5 280v1M234.5 279v1M235.5 277v2M236.5 276v1M237.5 275v1M238.5 274v1M239 273.5h5M244 272.5h3M247 272.5h3M250 273.5h4M254 274.5h1M255 274.5h3M258 275.5h4M262 276.5h1M263 276.5h5M268 277.5h3M271 277.5h3M274 278.5h4M278 279.5h1M279 279.5h5M284 280.5h3M287 280.5h5M292 281.5h3M295 281.5h3M298 280.5h4M302 279.5h1M303 279.5h5M308 278.5h3M311 278.5h8M319 278.5h3M322 277.5h4M326 276.5h1M327 276.5h3M330 275.5h4M334 274.5h1M335 274.5h3M338 273.5h4M342 272.5h1M343 272.5h8M351 272.5h3M354 271.5h4M358 270.5h1M359 270.5h8M367 270.5h8M375 270.5h8M383 270.5h8M391 270.5h5M396 271.5h3M399 271.5h5M404 272.5h3M407 272.5h3M410 273.5h4M414 274.5h1M415 274.5h5M420 275.5h3M423 275.5h8M431 275.5h3M434 276.5h4M438 277.5h1M439 277.5h5M444 276.5h3M447 276.5h2M449 275.5h3M452 274.5h2M454 273.5h1M455 273.5h2M457 272.5h2M459 271.5h2M461 270.5h2M463 269.5h2M465 268.5h3M468 267.5h2M470 266.5h1M471 266.5h5M476 265.5h3M479 265.5h5M484 266.5h3M487 266.5h3M490 267.5h4M494 268.5h1M495 268.5h2M497 269.5h3M500 270.5h2M502 271.5h1M503 271.5h2M505 272.5h2M507 273.5h2M509 274.5h2M511 275.5h2M513 276.5h3M516 277.5h2M518 278.5h1M519 278.5h2M521 279.5h3M524 280.5h2M526 281.5h1M527 281.5h2M529 282.5h3M532 283.5h2M534 284.5h1M535 284.5h2M537 285.5h2M539 286.5h2M541 287.5h2M543 288.5h3M546 289.5h4M550 290.5h1M551 290.5h2M553 291.5h3M556 292.5h2M558 293.5h1M559 293.5h2M561 294.5h2M563 295.5h2M565 296.5h2M567 297.5h2M569 298.5h3M572 299.5h2M574 300.5h1M575 300.5h2M577 301.5h3M580 302.5h2M582 303.5h1M583 303.5h3M586 304.5h4M590 305.5h1M591 305.5h5M596 306.5h3M599 306.5h8M607 306.5h3M610 307.5h4M614 308.5h1M615 308.5h5M620 309.5h3M623 309.5h8M631 309.5h5M636 310.5h3M639 310.5h8M647 310.5h5M652 309.5h3M655 309.5h5M660 310.5h3M663 310.5h5M668 311.5h3M671 311.5h2M673 312.5h3M676 313.5h2M678 314.5h1M679 314.5h3M682 315.5h4M686 316.5h1M687 316.5h3M690 317.5h4M694 318.5h1M695 318.5h8M703 318.5h3M706 319.5h4M710 320.5h1M711 320.5h3M714 321.5h4M718 322.5h1M719 322.5h8M727 322.5h5M732 321.5h3M735 321.5h8M743 321.5h8" fill="none" stroke="#2aa9e6" stroke-width="1"/>
<path d="M95 365.5h5M100 364.5h3M103 364.5h5M108 365.5h3M111 365.5h5M116 366.5h3M119 366.5h2M121 365.5h3M124 364.5h2M126 363.5h1M127 363.5h2M129 362.5h3M132 361.5h2M134 360.5h1M135 360.5h5M140 359.5h3M143 359.5h2M145 358.5h3M148 357.5h2M150 356.5h1M151 356.5h1M152 355.5h2M154 354.5h2M156 353.5h1M157 352.5h2M159 351.5h1M160 350.5h2M162 349.5h2M164 348.5h1M165 347.5h2M167 346.5h2M169 345.5h2M171 344.5h2M173 343.5h2M175.5 342v1M176.5 341v1M177.5 340v1M178.5 339v1M179.5 337v2M180.5 336v1M181.5 335v1M182.5 334v1M183.5 333v1M184.5 332v1M185.5 330v2M186.5 329v1M187.5 328v1M188.5 327v1M189.5 325v2M190.5 324v1M191.5 322v2M192.5 320v2M193.5 318v2M194.5 316v2M195.5 314v2M196.5 312v2M197.5 310v2M198.5 308v2M199.5 307v1M200.5 305v2M201.5 304v1M202.5 303v1M203.5 301v2M204.5 300v1M205.5 299v1M206.5 297v2M207.5 296v1M208.5 294v2M209.5 292v2M210.5 290v2M211.5 288v2M212.5 286v2M213.5 284v2M214.5 282v2M215.5 281v1M216.5 279v2M217.5 278v1M218.5 276v2M219.5 275v1M220.5 273v2M221.5 272v1M222.5 270v2M223.5 269v1M224.5 267v2M225.5 266v1M226.5 265v1M227.5 263v2M228.5 262v1M229.5 261v1M230.5 259v2M231.5 258v1M232.5 256v2M233.5 255v1M234.5 253v2M235.5 252v1M236.5 250v2M237.5 249v1M238.5 247v2M239 246.5h3M242 247.5h4M246 248.5h1M247 248.5h1M248 249.5h2M250 250.5h2M252 251.5h1M253 252.5h2M255 253.5h1M256 254.5h2M258 255.5h2M260 256.5h1M261 257.5h2M263 258.5h2M265 259.5h2M267 260.5h2M269 261.5h2M271 262.5h2M273 263.5h3M276 264.5h2M278 265.5h1M279 265.5h2M281 266.5h2M283 267.5h2M285 268.5h2M287 269.5h3M290 270.5h4M294 271.5h1M295 271.5h5M300 270.5h3M303 270.5h5M308 269.5h3M311 269.5h5M316 270.5h3M319 270.5h3M322 269.5h4M326 268.5h1M327 268.5h3M330 267.5h4M334 266.5h1M335 266.5h2M337 265.5h3M340 264.5h2M342 263.5h1M343 263.5h5M348 264.5h3M351 264.5h2M353 263.5h3M356 262.5h2M358 261.5h1M359 261.5h5M364 262.5h3M367 262.5h5M372 263.5h3M375 263.5h5M380 264.5h3M383 264.5h5M388 265.5h3M391 265.5h3M394 266.5h4M398 267.5h1M399 267.5h3M402 268.5h4M406 269.5h1M407 269.5h3M410 270.5h4M414 271.5h1M415 271.5h3M418 272.5h4M422 273.5h1M423 273.5h5M428 274.5h3M431 274.5h3M434 275.5h4M438 276.5h1M439 276.5h5M444 275.5h3M447 275.5h2M449 274.5h2M451 273.5h2M453 272.5h2M455 271.5h1M456 270.5h2M458 269.5h1M459 268.5h1M460 267.5h2M462 266.5h1M463 265.5h2M465 264.5h2M467 263.5h2M469 262.5h2M471 261.5h8M479 261.5h5M484 262.5h3M487 262.5h2M489 263.5h2M491 264.5h2M493 265.5h2M495 266.5h2M497 267.5h2M499 268.5h2M501 269.5h2M503 270.5h1M504 271.5h2M506 272.5h2M508 273.5h1M509 274.5h2M511 275.5h1M512 276.5h2M514 277.5h1M515 278.5h1M516 279.5h2M518 280.5h1M519 281.5h2M521 282.5h2M523 283.5h2M525 284.5h2M527 285.5h2M529 286.5h2M531 287.5h2M533 288.5h2M535 289.5h1M536 290.5h2M538 291.5h2M540 292.5h1M541 293.5h2M543 294.5h2M545 295.5h3M548 296.5h2M550 297.5h1M551 297.5h2M553 298.5h3M556 299.5h2M558 300.5h1M559 300.5h1M560 301.5h2M562 302.5h2M564 303.5h1M565 304.5h2M567 305.5h1M568 306.5h2M570 307.5h2M572 308.5h1M573 309.5h2M575 310.5h2M577 311.5h3M580 312.5h2M582 313.5h1M583 313.5h5M588 314.5h3M591 314.5h5M596 315.5h3M599 315.5h8M607 315.5h5M612 316.5h3M615 316.5h5M620 317.5h3M623 317.5h8M631 317.5h8M639 317.5h5M644 316.5h3M647 316.5h3M650 315.5h4M654 314.5h1M655 314.5h5M660 315.5h3M663 315.5h5M668 316.5h3M671 316.5h2M673 317.5h2M675 318.5h2M677 319.5h2M679 320.5h2M681 321.5h3M684 322.5h2M686 323.5h1M687 323.5h3M690 324.5h4M694 325.5h1M695 325.5h8M703 325.5h3M706 326.5h4M710 327.5h1M711 327.5h3M714 328.5h4M718 329.5h1M719 329.5h8M727 329.5h3M730 328.5h4M734 327.5h1M735 327.5h5M740 326.5h3M743 326.5h8" fill="none" stroke="#3fbb7c" stroke-width="1"/>
<path d="M95 366.5h3M98 365.5h4M102 364.5h1M103 364.5h3M106 365.5h4M110 366.5h1M111 366.5h3M114 367.5h4M118 368.5h1M119 368.5h1M120 367.5h2M122 366.5h1M123 365.5h1M124 364.5h2M126 363.5h1M127 362.5h1M128 361.5h2M130 360.5h2M132 359.5h1M133 358.5h2M135 357.5h2M137 356.5h3M140 355.5h2M142 354.5h1M143 354.5h2M145 353.5h2M147 352.5h2M149 351.5h2M151 350.5h1M152 349.5h1M153 348.5h1M154 347.5h1M155 346.5h1M156 345.5h1M157 344.5h1M158 343.5h1M159 342.5h1M160 341.5h1M161 340.5h1M162 339.5h1M163 338.5h1M164 337.5h1M165 336.5h1M166 335.5h1M167 334.5h1M168 333.5h2M170 332.5h2M172 331.5h1M173 330.5h2M175.5 328v2M176.5 326v2M177.5 324v2M178.5 322v2M179.5 320v2M180.5 318v2M181.5 316v2M182.5 314v2M183.5 313v1M184.5 311v2M185.5 309v2M186.5 307v2M187.5 306v1M188.5 304v2M189.5 302v2M190.5 300v2M191.5 298v2M192.5 295v3M193.5 291v4M194.5 288v3M195.5 285v3M196.5 282v3M197.5 278v4M198.5 275v3M199.5 274v1M199.5 272v2M200.5 270v2M201.5 268v2M202.5 266v2M203.5 264v2M204.5 262v2M205.5 260v2M206.5 258v2M207.5 256v2M208.5 254v2M209.5 251v3M210.5 248v3M211.5 246v2M212.5 243v3M213.5 240v3M214.5 238v2M215.5 237v1M215.5 236v1M216.5 234v2M217.5 232v2M218.5 230v2M219.5 229v1M220.5 227v2M221.5 225v2M222.5 223v2M223.5 222v1M224.5 220v2M225.5 218v2M226.5 216v2M227.5 215v1M228.5 213v2M229.5 211v2M230.5 209v2M231.5 208v1M232.5 206v2M233.5 204v2M234.5 203v1M235.5 201v2M236.5 200v1M237.5 198v2M238.5 196v2M239.5 195v1M240.5 196v2M241.5 198v1M242.5 199v2M243.5 201v1M244.5 202v2M245.5 204v1M246.5 205v2M247.5 207v2M248.5 209v2M249.5 211v2M250.5 213v2M251.5 215v3M252.5 218v2M253.5 220v2M254.5 222v2M255.5 224v1M255.5 225v1M256.5 226v2M257.5 228v2M258.5 230v2M259.5 232v1M260.5 233v2M261.5 235v2M262.5 237v2M263.5 239v1M264.5 240v2M265.5 242v1M266.5 243v1M267.5 244v2M268.5 246v1M269.5 247v1M270.5 248v2M271.5 250v1M272.5 251v1M273.5 252v1M274.5 253v1M275.5 254v2M276.5 256v1M277.5 257v1M278.5 258v1M279 259.5h1M280 260.5h1M281 261.5h1M282 262.5h1M283 263.5h1M284 264.5h1M285 265.5h1M286 266.5h1M287 267.5h2M289 268.5h2M291 269.5h2M293 270.5h2M295 271.5h3M298 270.5h4M302 269.5h1M303 269.5h5M308 268.5h3M311 268.5h5M316 269.5h3M319 269.5h2M321 268.5h3M324 267.5h2M326 266.5h1M327 266.5h2M329 265.5h2M331 264.5h2M333 263.5h2M335 262.5h2M337 261.5h3M340 260.5h2M342 259.5h1M343 259.5h5M348 260.5h3M351 260.5h2M353 259.5h2M355 258.5h2M357 257.5h2M359 256.5h3M362 257.5h4M366 258.5h1M367 258.5h3M370 259.5h4M374 260.5h1M375 260.5h2M377 261.5h3M380 262.5h2M382 263.5h1M383 263.5h3M386 264.5h4M390 265.5h1M391 265.5h2M393 266.5h2M395 267.5h2M397 268.5h2M399 269.5h2M401 270.5h3M404 271.5h2M406 272.5h1M407 272.5h2M409 273.5h2M411 274.5h2M413 275.5h2M415 276.5h2M417 277.5h3M420 278.5h2M422 279.5h1M423 279.5h8M431 279.5h2M433 280.5h2M435 281.5h2M437 282.5h2M439 283.5h2M441 282.5h3M444 281.5h2M446 280.5h1M447.5 280v1M448.5 279v1M449.5 277v2M450.5 276v1M451.5 275v1M452.5 274v1M453.5 272v2M454.5 271v1M455.5 270v1M456.5 268v2M457.5 267v1M458.5 266v1M459.5 264v2M460.5 263v1M461.5 262v1M462.5 260v2M463 259.5h1M464 258.5h1M465 257.5h1M466 256.5h2M468 255.5h1M469 254.5h1M470 253.5h1M471 252.5h3M474 253.5h4M478 254.5h1M479 254.5h2M481 255.5h2M483 256.5h2M485 257.5h2M487 258.5h1M488 259.5h1M489 260.5h1M490 261.5h1M491 262.5h1M492 263.5h1M493 264.5h1M494 265.5h1M495.5 266v1M496.5 267v1M497.5 268v1M498.5 269v1M499.5 270v2M500.5 272v1M501.5 273v1M502.5 274v1M503 275.5h1M504 276.5h1M505 277.5h1M506 278.5h1M507 279.5h1M508 280.5h1M509 281.5h1M510 282.5h1M511.5 283v1M512.5 284v1M513.5 285v1M514.5 286v1M515.5 287v2M516.5 289v1M517.5 290v1M518.5 291v1M519 292.5h1M520 293.5h2M522 294.5h2M524 295.5h1M525 296.5h2M527 297.5h1M528 298.5h1M529 299.5h1M530 300.5h2M532 301.5h1M533 302.5h1M534 303.5h1M535 304.5h1M536 305.5h1M537 306.5h1M538 307.5h2M540 308.5h1M541 309.5h1M542 310.5h1M543 311.5h3M546 312.5h4M550 313.5h1M551 313.5h2M553 314.5h2M555 315.5h2M557 316.5h2M559 317.5h1M560 318.5h2M562 319.5h2M564 320.5h1M565 321.5h2M567 322.5h1M568 323.5h2M570 324.5h1M571 325.5h1M572 326.5h2M574 327.5h1M575 328.5h2M577 329.5h3M580 330.5h2M582 331.5h1M583 331.5h8M591 331.5h3M594 330.5h4M598 329.5h1M599 329.5h2M601 328.5h2M603 327.5h2M605 326.5h2M607 325.5h3M610 326.5h4M614 327.5h1M615 327.5h5M620 326.5h3M623 326.5h3M626 325.5h4M630 324.5h1M631 324.5h5M636 323.5h3M639 323.5h3M642 322.5h4M646 321.5h1M647 321.5h1M648 320.5h2M650 319.5h1M651 318.5h1M652 317.5h2M654 316.5h1M655 315.5h3M658 316.5h4M662 317.5h1M663 317.5h3M666 318.5h4M670 319.5h1M671 319.5h1M672 320.5h1M673 321.5h1M674 322.5h2M676 323.5h1M677 324.5h1M678 325.5h1M679 326.5h2M681 327.5h2M683 328.5h2M685 329.5h2M687 330.5h3M690 331.5h4M694 332.5h1M695 332.5h5M700 331.5h3M703 331.5h2M705 332.5h2M707 333.5h2M709 334.5h2M711 335.5h3M714 336.5h4M718 337.5h1M719 337.5h3M722 336.5h4M726 335.5h1M727 335.5h1M728 334.5h2M730 333.5h2M732 332.5h1M733 331.5h2M735 330.5h3M738 329.5h4M742 328.5h1M743 328.5h5M748 327.5h3" fill="none" stroke="#1e86f5" stroke-width="1"/>
<path d="M95.5 550v1M96.5 548v2M97.5 547v1M98.5 546v1M99.5 544v2M100.5 543v1M101.5 542v1M102.5 540v2M103.5 539v1M104.5 540v2M105.5 542v2M106.5 544v1M107.5 545v2M108.5 547v1M109.5 548v2M110.5 550v2M111 552.5h5M116 553.5h3M119.5 552v2M120.5 548v4M121.5 544v4M122.5 540v4M123.5 536v4M124.5 532v4M125.5 528v4M126.5 524v4M127.5 523v1M127 522.5h2M129 521.5h2M131 520.5h2M133 519.5h2M135.5 518v1M136.5 519v1M137.5 520v2M138.5 522v1M139.5 523v1M140.5 524v1M141.5 525v2M142.5 527v1M143 528.5h1M144 527.5h2M146 526.5h1M147 525.5h1M148 524.5h2M150 523.5h1M151.5 521v2M152.5 519v2M153.5 516v3M154.5 514v2M155.5 511v3M156.5 509v2M157.5 506v3M158.5 504v2M159.5 503v1M159 502.5h1M160 501.5h1M161 500.5h1M162 499.5h2M164 498.5h1M165 497.5h1M166 496.5h1M167.5 495v1M168.5 496v2M169.5 498v1M170.5 499v2M171.5 501v1M172.5 502v2M173.5 504v1M174.5 505v2M175.5 505v3M176.5 501v4M177.5 497v4M178.5 492v5M179.5 488v4M180.5 483v5M181.5 479v4M182.5 475v4M183.5 473v2M183 472.5h2M185 471.5h3M188 470.5h2M190 469.5h1M191.5 468v2M192.5 465v3M193.5 462v3M194.5 459v3M195.5 456v3M196.5 453v3M197.5 450v3M198.5 447v3M199.5 446v1M199.5 445v2M200.5 447v3M201.5 450v3M202.5 453v3M203.5 456v4M204.5 460v3M205.5 463v3M206.5 466v3M207.5 469v1M207.5 470v1M208.5 468v2M209.5 467v1M210.5 465v2M211.5 464v1M212.5 462v2M213.5 461v1M214.5 459v2M215 458.5h1M216 459.5h1M217 460.5h1M218 461.5h1M219 462.5h1M220 463.5h1M221 464.5h1M222 465.5h1M223 466.5h2M225 465.5h2M227 464.5h2M229 463.5h2M231 462.5h5M236 461.5h3M239.5 461v5M240.5 466v10M241.5 476v10M242.5 486v10M243.5 496v9M244.5 505v10M245.5 515v10M246.5 525v10M247.5 535v4M247.5 539v2M248.5 541v2M249.5 543v2M250.5 545v2M251.5 547v2M252.5 549v2M253.5 551v2M254.5 553v2M255 555.5h8M263 555.5h2M265 554.5h3M268 553.5h2M270 552.5h1M271 552.5h3M274 553.5h4M278 554.5h1M279 554.5h5M284 555.5h3M287 555.5h1M288 554.5h2M290 553.5h1M291 552.5h1M292 551.5h2M294 550.5h1M295.5 548v2M296.5 546v2M297.5 543v3M298.5 540v3M299.5 538v2M300.5 535v3M301.5 532v3M302.5 530v2M303.5 529v1M303 528.5h2M305 529.5h2M307 530.5h2M309 531.5h2M311 532.5h1M312 533.5h1M313 534.5h1M314 535.5h2M316 536.5h1M317 537.5h1M318 538.5h1M319.5 539v1M320.5 537v2M321.5 535v2M322.5 533v2M323.5 532v1M324.5 530v2M325.5 528v2M326.5 526v2M327 525.5h2M329 524.5h3M332 523.5h2M334 522.5h1M335 522.5h5M340 521.5h3M343.5 521v2M344.5 523v2M345.5 525v2M346.5 527v2M347.5 529v3M348.5 532v2M349.5 534v2M350.5 536v2M351.5 538v1M351.5 538v2M352.5 536v2M353.5 533v3M354.5 531v2M355.5 528v3M356.5 526v2M357.5 523v3M358.5 521v2M359.5 520v1M359.5 519v2M360.5 521v3M361.5 524v2M362.5 526v3M363.5 529v3M364.5 532v3M365.5 535v2M366.5 537v3M367.5 540v1M367 541.5h5M372 542.5h3M375 542.5h5M380 543.5h3M383 543.5h2M385 544.5h2M387 545.5h2M389 546.5h2M391 547.5h2M393 548.5h2M395 549.5h2M397 550.5h2M399 551.5h2M401 552.5h3M404 553.5h2M406 554.5h1M407 554.5h2M409 555.5h2M411 556.5h2M413 557.5h2M415 558.5h5M420 559.5h3M423.5 559v1M424.5 557v2M425.5 555v2M426.5 554v1M427.5 552v2M428.5 551v1M429.5 549v2M430.5 547v2M431.5 546v2M432.5 548v2M433.5 550v2M434.5 552v2M435.5 554v2M436.5 556v2M437.5 558v2M438.5 560v2M439.5 561v2M440.5 557v4M441.5 553v4M442.5 549v4M443.5 546v3M444.5 542v4M445.5 538v4M446.5 534v4M447.5 533v1M447.5 531v2M448.5 527v4M449.5 524v3M450.5 521v3M451.5 517v4M452.5 514v3M453.5 511v3M454.5 507v4M455.5 506v1M455.5 505v1M456.5 504v1M457.5 502v2M458.5 501v1M459.5 500v1M460.5 499v1M461.5 497v2M462.5 496v1M463.5 495v1M464.5 496v2M465.5 498v2M466.5 500v2M467.5 502v2M468.5 504v2M469.5 506v2M470.5 508v2M471.5 510v2M472.5 512v4M473.5 516v3M474.5 519v4M475.5 523v3M476.5 526v4M477.5 530v3M478.5 533v4M479.5 537v1M479.5 538v1M480.5 539v2M481.5 541v1M482.5 542v2M483.5 544v1M484.5 545v2M485.5 547v1M486.5 548v2M487.5 550v1M488.5 551v2M489.5 553v1M490.5 554v1M491.5 555v2M492.5 557v1M493.5 558v1M494.5 559v2M495.5 561v1M496.5 562v1M497.5 563v1M498.5 564v1M499.5 565v2M500.5 567v1M501.5 568v1M502.5 569v1M503 570.5h1M504 571.5h2M506 572.5h2M508 573.5h1M509 574.5h2M511 575.5h2M513 576.5h2M515 577.5h2M517 578.5h2M519.5 579v1M520.5 578v1M521.5 576v2M522.5 575v1M523.5 574v1M524.5 573v1M525.5 571v2M526.5 570v1M527.5 569v1M528.5 570v1M529.5 571v1M530.5 572v1M531.5 573v2M532.5 575v1M533.5 576v1M534.5 577v1M535 578.5h1M536 579.5h2M538 580.5h2M540 581.5h1M541 582.5h2M543.5 582v2M544.5 580v2M545.5 577v3M546.5 575v2M547.5 572v3M548.5 570v2M549.5 567v3M550.5 565v2M551.5 564v1M551.5 563v1M552.5 564v1M553.5 565v1M554.5 566v1M555.5 567v2M556.5 569v1M557.5 570v1M558.5 571v1M559 572.5h1M560 573.5h2M562 574.5h1M563 575.5h1M564 576.5h2M566 577.5h1M567 578.5h1M568 579.5h2M570 580.5h2M572 581.5h1M573 582.5h2M575.5 583v1M576.5 581v2M577.5 579v2M578.5 577v2M579.5 575v2M580.5 573v2M581.5 571v2M582.5 569v2M583.5 568v1M584.5 567v1M585.5 566v1M586.5 565v1M587.5 563v2M588.5 562v1M589.5 561v1M590.5 560v1M591 559.5h1M592 558.5h2M594 557.5h2M596 556.5h1M597 555.5h2M599.5 553v2M600.5 551v2M601.5 549v2M602.5 547v2M603.5 545v2M604.5 543v2M605.5 541v2M606.5 539v2M607.5 538v2M608.5 540v2M609.5 542v3M610.5 545v3M611.5 548v2M612.5 550v3M613.5 553v3M614.5 556v2M615.5 558v1M615.5 559v1M616.5 558v1M617.5 557v1M618.5 556v1M619.5 554v2M620.5 553v1M621.5 552v1M622.5 551v1M623 550.5h1M624 549.5h1M625 548.5h1M626 547.5h1M627 546.5h1M628 545.5h1M629 544.5h1M630 543.5h1M631 542.5h1M632 543.5h2M634 544.5h2M636 545.5h1M637 546.5h2M639.5 547v1M640.5 546v1M641.5 544v2M642.5 543v1M643.5 542v1M644.5 541v1M645.5 539v2M646.5 538v1M647.5 537v1M648.5 535v2M649.5 533v2M650.5 531v2M651.5 529v2M652.5 527v2M653.5 525v2M654.5 523v2M655.5 522v2M656.5 524v4M657.5 528v3M658.5 531v4M659.5 535v3M660.5 538v4M661.5 542v3M662.5 545v4M663.5 549v1M663 550.5h1M664 551.5h1M665 552.5h1M666 553.5h2M668 554.5h1M669 555.5h1M670 556.5h1M671.5 557v2M672.5 559v2M673.5 561v2M674.5 563v2M675.5 565v2M676.5 567v2M677.5 569v2M678.5 571v2M679.5 573v1M679.5 574v1M680.5 573v1M681.5 572v1M682.5 571v1M683.5 569v2M684.5 568v1M685.5 567v1M686.5 566v1M687 565.5h1M688 564.5h2M690 563.5h2M692 562.5h1M693 561.5h2M695.5 559v2M696.5 557v2M697.5 555v2M698.5 553v2M699.5 551v2M700.5 549v2M701.5 547v2M702.5 545v2M703.5 544v2M704.5 546v2M705.5 548v3M706.5 551v2M707.5 553v3M708.5 556v2M709.5 558v3M710.5 561v2M711.5 563v1M711 564.5h1M712 563.5h2M714 562.5h1M715 561.5h1M716 560.5h2M718 559.5h1M719.5 557v2M720.5 555v2M721.5 553v2M722.5 551v2M723.5 549v2M724.5 547v2M725.5 545v2M726.5 543v2M727.5 542v1M728.5 540v2M729.5 538v2M730.5 536v2M731.5 535v1M732.5 533v2M733.5 531v2M734.5 529v2M735.5 528v1M736.5 529v1M737.5 530v2M738.5 532v1M739.5 533v1M740.5 534v1M741.5 535v2M742.5 537v1M743 538.5h8" fill="none" stroke="#2aa9e0" stroke-width="1"/>
</g>
<line x1="91" x2="818" y1="321.5" y2="321.5" stroke="#1480f8" stroke-width="1" stroke-dasharray="3 3" shape-rendering="crispEdges"/>
<g shape-rendering="crispEdges" fill="#000"><rect x="245" y="62" width="7" height="1"/><rect x="247" y="60" width="1" height="5"/></g>
<g shape-rendering="crispEdges" fill="#000"><rect x="461" y="203" width="7" height="1"/><rect x="463" y="201" width="1" height="5"/></g>
<g shape-rendering="crispEdges" fill="#000"><rect x="117" y="396" width="7" height="1"/><rect x="119" y="394" width="1" height="5"/></g>
<g shape-rendering="crispEdges" fill="#000"><rect x="565" y="366" width="7" height="1"/><rect x="567" y="364" width="1" height="5"/></g>
<text x="252.0" y="58.8" font-family="Liberation Sans, Arial, sans-serif" font-size="12" fill="#ea4c5c" text-anchor="start" font-weight="bold">78.40</text>
<text x="468.3" y="200.0" font-family="Liberation Sans, Arial, sans-serif" font-size="12" fill="#ea4c5c" text-anchor="start" font-weight="bold">70.51</text>
<text x="124.3" y="408.0" font-family="Liberation Sans, Arial, sans-serif" font-size="12" fill="#52b987" text-anchor="start" font-weight="bold">59.74</text>
<text x="572.3" y="377.8" font-family="Liberation Sans, Arial, sans-serif" font-size="12" fill="#52b987" text-anchor="start" font-weight="bold">61.45</text>
<text x="86.6" y="25.3" font-family="Liberation Sans, Arial, sans-serif" font-size="12" fill="#22243a" text-anchor="end" >80.64</text>
<text x="821.4" y="25.3" font-family="Liberation Sans, Arial, sans-serif" font-size="12" fill="#22243a" text-anchor="start" >80.64</text>
<text x="86.6" y="82.4" font-family="Liberation Sans, Arial, sans-serif" font-size="12" fill="#22243a" text-anchor="end" >77.44</text>
<text x="821.4" y="82.4" font-family="Liberation Sans, Arial, sans-serif" font-size="12" fill="#22243a" text-anchor="start" >77.44</text>
<text x="86.6" y="139.5" font-family="Liberation Sans, Arial, sans-serif" font-size="12" fill="#22243a" text-anchor="end" >74.25</text>
<text x="821.4" y="139.5" font-family="Liberation Sans, Arial, sans-serif" font-size="12" fill="#22243a" text-anchor="start" >74.25</text>
<text x="86.6" y="196.6" font-family="Liberation Sans, Arial, sans-serif" font-size="12" fill="#22243a" text-anchor="end" >71.06</text>
<text x="821.4" y="196.6" font-family="Liberation Sans, Arial, sans-serif" font-size="12" fill="#22243a" text-anchor="start" >71.06</text>
<text x="86.6" y="253.7" font-family="Liberation Sans, Arial, sans-serif" font-size="12" fill="#22243a" text-anchor="end" >67.86</text>
<text x="821.4" y="253.7" font-family="Liberation Sans, Arial, sans-serif" font-size="12" fill="#22243a" text-anchor="start" >67.86</text>
<text x="86.6" y="310.8" font-family="Liberation Sans, Arial, sans-serif" font-size="12" fill="#22243a" text-anchor="end" >64.67</text>
<text x="821.4" y="310.8" font-family="Liberation Sans, Arial, sans-serif" font-size="12" fill="#22243a" text-anchor="start" >64.67</text>
<text x="86.6" y="367.9" font-family="Liberation Sans, Arial, sans-serif" font-size="12" fill="#22243a" text-anchor="end" >61.47</text>
<text x="821.4" y="367.9" font-family="Liberation Sans, Arial, sans-serif" font-size="12" fill="#22243a" text-anchor="start" >61.47</text>
<text x="86.6" y="448.1" font-family="Liberation Sans, Arial, sans-serif" font-size="12" fill="#22243a" text-anchor="end" >77.86</text>
<text x="821.4" y="448.1" font-family="Liberation Sans, Arial, sans-serif" font-size="12" fill="#22243a" text-anchor="start" >77.86</text>
<text x="86.6" y="471.3" font-family="Liberation Sans, Arial, sans-serif" font-size="12" fill="#22243a" text-anchor="end" >71.03</text>
<text x="821.4" y="471.3" font-family="Liberation Sans, Arial, sans-serif" font-size="12" fill="#22243a" text-anchor="start" >71.03</text>
<text x="86.6" y="494.5" font-family="Liberation Sans, Arial, sans-serif" font-size="12" fill="#22243a" text-anchor="end" >64.19</text>
<text x="821.4" y="494.5" font-family="Liberation Sans, Arial, sans-serif" font-size="12" fill="#22243a" text-anchor="start" >64.19</text>
<text x="86.6" y="517.6" font-family="Liberation Sans, Arial, sans-serif" font-size="12" fill="#22243a" text-anchor="end" >57.36</text>
<text x="821.4" y="517.6" font-family="Liberation Sans, Arial, sans-serif" font-size="12" fill="#22243a" text-anchor="start" >57.36</text>
<text x="86.6" y="540.8" font-family="Liberation Sans, Arial, sans-serif" font-size="12" fill="#22243a" text-anchor="end" >50.52</text>
<text x="821.4" y="540.8" font-family="Liberation Sans, Arial, sans-serif" font-size="12" fill="#22243a" text-anchor="start" >50.52</text>
<text x="86.6" y="564.0" font-family="Liberation Sans, Arial, sans-serif" font-size="12" fill="#22243a" text-anchor="end" >43.69</text>
<text x="821.4" y="564.0" font-family="Liberation Sans, Arial, sans-serif" font-size="12" fill="#22243a" text-anchor="start" >43.69</text>
<text x="129.3" y="597.0" font-family="Liberation Sans, Arial, sans-serif" font-size="12" fill="#22243a" text-anchor="start" font-weight="bold">2025/06</text>
<text x="297.3" y="597.0" font-family="Liberation Sans, Arial, sans-serif" font-size="12" fill="#22243a" text-anchor="start" font-weight="bold">2025/07</text>
<text x="481.3" y="597.0" font-family="Liberation Sans, Arial, sans-serif" font-size="12" fill="#22243a" text-anchor="start" font-weight="bold">2025/08</text>
<text x="649.3" y="597.0" font-family="Liberation Sans, Arial, sans-serif" font-size="12" fill="#22243a" text-anchor="start" font-weight="bold">2025/09</text>
<rect x="818.5" y="321.5" width="68" height="17" fill="#fff" stroke="#ff7f0e" stroke-width="1" shape-rendering="crispEdges"/>
<text x="821.4" y="333.9" font-family="Liberation Sans, Arial, sans-serif" font-size="12" fill="#ff7f0e" text-anchor="start" >63.96</text>
<path d="M882 313 l4 4 h-8 z M882 317 l4.5 4.5 h-9 z" fill="#ff7f0e"/>
<text x="232.3" y="13.6" font-family="Liberation Sans, Arial, sans-serif" font-size="12" fill="#000" textLength="137.5" lengthAdjust="spacing">EXPMA(10,20,30,50,200)</text>
<text x="375.8" y="13.6" font-family="Liberation Sans, Arial, sans-serif" font-size="12" fill="#4a96f7" textLength="59.2" lengthAdjust="spacing">MA1:63.61</text>
<text x="444.5" y="13.6" font-family="Liberation Sans, Arial, sans-serif" font-size="12" fill="#45c48a" textLength="60.5" lengthAdjust="spacing">MA2:63.68</text>
<text x="513.8" y="13.6" font-family="Liberation Sans, Arial, sans-serif" font-size="12" fill="#38aeea" textLength="59.2" lengthAdjust="spacing">MA3:63.92</text>
<text x="582.5" y="13.6" font-family="Liberation Sans, Arial, sans-serif" font-size="12" fill="#ff8d3c" textLength="60.0" lengthAdjust="spacing">MA4:64.35</text>
<text x="651.8" y="13.6" font-family="Liberation Sans, Arial, sans-serif" font-size="12" fill="#ea84e0" textLength="28.7" lengthAdjust="spacing">MA5:</text>
<text x="91.7" y="14.5" font-family="Liberation Sans, 'Noto Sans CJK SC', sans-serif" font-size="12" font-weight="500" fill="#111">美原油连续</text>
<text x="152.3" y="14.5" font-family="Liberation Sans, 'Noto Sans CJK SC', sans-serif" font-size="12" font-weight="500" fill="#ff7a0a">【日线】</text>
<g stroke="#ff8a1a" fill="none" stroke-width="1"><circle cx="204.75" cy="11.45" r="4.1"/><path d="M200.6 11.5h8.3"/><path d="M204.6 7.4v8.2" stroke-opacity="0.6"/></g>
<g shape-rendering="crispEdges"><rect x="218" y="2" width="12" height="13" fill="#9a9aa8"/><rect x="217.5" y="1.5" width="11" height="12" fill="#fff" stroke="#000080"/></g><polyline points="218.5,8.5 221.5,4.5 224.5,7.5 226.5,5.5 228,5.5" fill="none" stroke="#ff1010" stroke-width="1"/><polyline points="218.5,11.5 221.5,7.5 224.5,10.5 226.5,8.5 228,8.5" fill="none" stroke="#1010ff" stroke-width="1"/>
<text x="92.0" y="437.2" font-family="Liberation Sans, Arial, sans-serif" font-size="12" fill="#000" textLength="74.0" lengthAdjust="spacing">RSI(14,14,14)</text>
<text x="171.8" y="437.2" font-family="Liberation Sans, Arial, sans-serif" font-size="12" fill="#4a96f7" textLength="58.7" lengthAdjust="spacing">RSI1:50.57</text>
<text x="239.5" y="437.2" font-family="Liberation Sans, Arial, sans-serif" font-size="12" fill="#45c48a" textLength="59.5" lengthAdjust="spacing">RSI2:50.57</text>
<text x="307.5" y="437.2" font-family="Liberation Sans, Arial, sans-serif" font-size="12" fill="#38aeea" textLength="59.0" lengthAdjust="spacing">RSI3:50.57</text>
<g shape-rendering="crispEdges" fill="#000"><rect x="27" y="426" width="4" height="1"/><rect x="27" y="433" width="4" height="1"/><rect x="25" y="428" width="1" height="4"/><rect x="32" y="428" width="1" height="4"/><rect x="26" y="427" width="1" height="1"/><rect x="31" y="427" width="1" height="1"/><rect x="26" y="432" width="1" height="1"/><rect x="31" y="432" width="1" height="1"/></g><g shape-rendering="crispEdges" fill="#ff0000"><rect x="28" y="428" width="2" height="4"/><rect x="27" y="429" width="4" height="2"/><rect x="28" y="423" width="1" height="2"/><rect x="28" y="435" width="1" height="2"/><rect x="22" y="429" width="2" height="1"/><rect x="34" y="429" width="2" height="1"/><rect x="23" y="424" width="1" height="1"/><rect x="24" y="425" width="1" height="1"/><rect x="33" y="425" width="1" height="1"/><rect x="34" y="424" width="1" height="1"/><rect x="24" y="434" width="1" height="1"/><rect x="23" y="435" width="1" height="1"/><rect x="33" y="434" width="1" height="1"/><rect x="34" y="435" width="1" height="1"/></g>
<rect x="755.5" y="1.5" width="13" height="13" fill="#fff" stroke="#1874cd" shape-rendering="crispEdges"/>
<g fill="#1874cd"><rect x="761" y="3.1" width="2" height="2.7"/><rect x="761" y="10.1" width="2" height="2.7"/><rect x="757.1" y="7" width="2.9" height="2"/><rect x="764.1" y="7" width="2.9" height="2"/><rect x="761" y="7" width="2" height="2"/></g>
<rect x="771.5" y="1.5" width="13" height="13" fill="#fff" stroke="#1874cd" shape-rendering="crispEdges"/>
<g fill="#1874cd"><rect x="774.0" y="3.6" width="1.1" height="9"/><rect x="773.1" y="11" width="9.6" height="1.1"/><path d="M774.55 2.9l1.5 2.1h-3z"/><path d="M783.10 11.55l-2.2 1.4v-2.8z"/></g>
<g fill="#1874cd"><rect x="776.9" y="4" width="1.1" height="5.7"/><path d="M778.1 6.85l2.8-2.75v5.2z"/></g>
<rect x="787.5" y="1.5" width="13" height="13" fill="#1874cd" stroke="#1874cd" shape-rendering="crispEdges"/>
<g fill="#fff"><rect x="790.0" y="3.6" width="1.1" height="9"/><rect x="789.1" y="11" width="9.6" height="1.1"/><path d="M790.55 2.9l1.5 2.1h-3z"/><path d="M799.10 11.55l-2.2 1.4v-2.8z"/></g>
<path d="M793 4v6.5l5.1-3.15z" fill="#fff"/><path d="M794.2 6l2.3 1.4-2.3 1.6z" fill="#d7e7f6"/>
<rect x="803.5" y="1.5" width="13" height="13" fill="#fff" stroke="#1874cd" shape-rendering="crispEdges"/>
<g fill="none" stroke="#1874cd" stroke-width="1"><rect x="805.5" y="3.5" width="3" height="9"/></g>
<g fill="#1874cd"><rect x="807.3" y="7" width="4.7" height="1.9"/><path d="M811.2 5v5.8l3.4-2.9z"/></g>
<text x="759.3" y="596" font-family="Liberation Sans, Arial, sans-serif" font-size="30.5" letter-spacing="2.2" fill="#bba999">FX678</text>
<text x="758.3" y="595" font-family="Liberation Sans, Arial, sans-serif" font-size="30.5" letter-spacing="2.2" fill="#dce8f6">FX678</text>
</svg>
<div id="side">
  <div class="s" style="top:0;height:51px;padding-top:7px;box-sizing:border-box"><span>分</span><span>时</span><span>图</span></div>
  <div class="s on" style="top:51px;height:46px;padding-top:5px;box-sizing:border-box"><span style="font-size:11px;position:relative;top:-1px">K</span><span>线</span><span>图</span></div>
  <div class="s" style="top:98px;height:51px;padding-top:9px;box-sizing:border-box"><span>闪</span><span>电</span><span>图</span></div>
  <div class="s" style="top:150px;height:63px;padding-top:8px;box-sizing:border-box"><span>合</span><span>约</span><span>资</span><span>料</span></div>
  <div class="blank"></div>
</div>
<div id="period"><b>日线</b><i></i></div>
<div id="tabs"><div class="tab on" style="width:40px">指标</div><div class="tab " style="width:40px">模板</div><div class="tab vip" style="width:58px"><span class="l">VIP</span>指标</div><div class="tab " style="width:46px"><span class="l">EXPMA</span></div><div class="tab " style="width:28px"><span class="l">MA</span></div><div class="tab " style="width:40px"><span class="l">MACD</span></div><div class="tab " style="width:28px"><span class="l">PP</span></div><div class="tab " style="width:100px"><span class="l">ICHIMOKU CLOUD</span></div><div class="tab " style="width:34px"><span class="l">CCI</span></div><div class="tab " style="width:34px"><span class="l">KDJ</span></div><div class="tab " style="width:34px"><span class="l">RSI</span></div><div class="tab " style="width:40px"><span class="l">BOLL</span></div><div class="tab " style="width:28px"><span class="l">CR</span></div><div class="tab " style="width:34px"><span class="l">PSY</span></div><div class="tab " style="width:40px">设置</div><div id="rest"></div></div>
</body>
</html>
